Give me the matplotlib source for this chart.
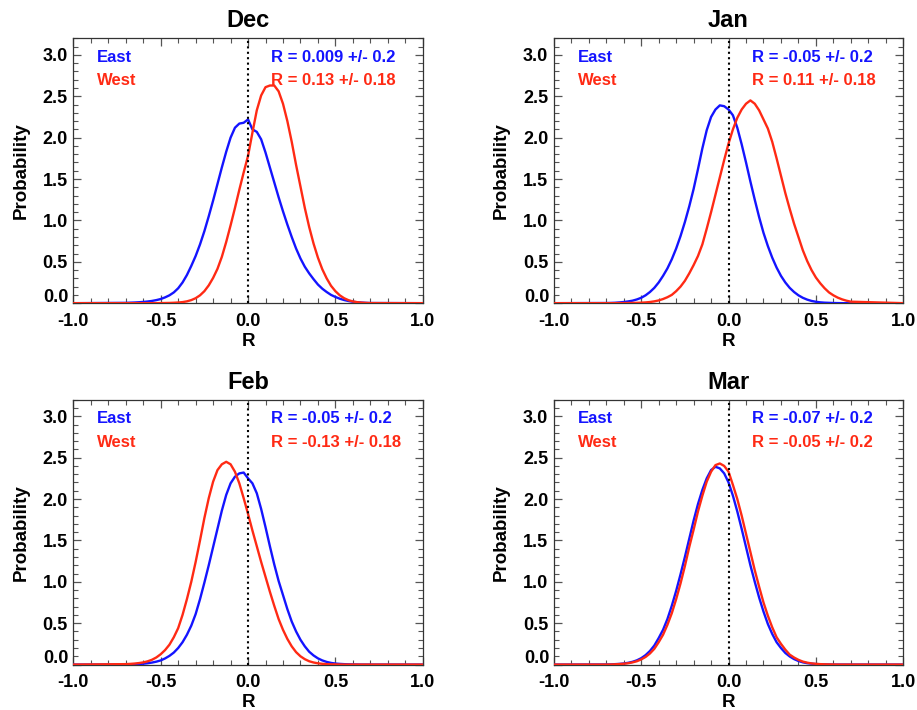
import numpy as np
import matplotlib.pyplot as plt
import matplotlib.transforms as mtransforms
from matplotlib.ticker import MultipleLocator

plt.rcParams['font.family'] = ['Liberation Sans', 'DejaVu Sans']
plt.rcParams['font.weight'] = 'bold'

# correlation bins, -0.7 .. 0.7 in steps of 0.025 (probability is 0 outside)
r_bins = np.round(np.linspace(-0.7, 0.7, 57), 3)

months = ['Dec', 'Jan', 'Feb', 'Mar']
east_stats = ['R = 0.009 +/- 0.2', 'R = -0.05 +/- 0.2', 'R = -0.05 +/- 0.2', 'R = -0.07 +/- 0.2']
west_stats = ['R = 0.13 +/- 0.18', 'R = 0.11 +/- 0.18', 'R = -0.13 +/- 0.18', 'R = -0.05 +/- 0.2']

dec_east = [0.004, 0.006, 0.008, 0.011, 0.015, 0.02, 0.027, 0.037, 0.05, 0.07,
            0.095, 0.13, 0.18, 0.25, 0.34, 0.45, 0.57, 0.71, 0.87, 1.05,
            1.24, 1.44, 1.64, 1.83, 2.00, 2.12, 2.17, 2.18, 2.22,
            2.10, 2.07, 1.98, 1.82, 1.64, 1.46, 1.28, 1.11, 0.95, 0.80,
            0.66, 0.54, 0.44, 0.36, 0.29, 0.225, 0.175, 0.135, 0.10, 0.075,
            0.054, 0.038, 0.026, 0.017, 0.011, 0.007, 0.004, 0.002]
dec_west = [0, 0, 0, 0, 0, 0, 0, 0, 0.001, 0.002,
            0.003, 0.005, 0.008, 0.013, 0.022, 0.037, 0.06, 0.095, 0.145, 0.215,
            0.305, 0.415, 0.56, 0.74, 0.94, 1.15, 1.37, 1.58, 1.78,
            2.06, 2.33, 2.51, 2.61, 2.63, 2.63, 2.56, 2.41, 2.20, 1.95,
            1.67, 1.41, 1.15, 0.92, 0.72, 0.55, 0.41, 0.30, 0.21, 0.145,
            0.095, 0.06, 0.036, 0.021, 0.012, 0.006, 0.003, 0.001]
jan_east = [0.002, 0.003, 0.005, 0.009, 0.014, 0.021, 0.03, 0.045, 0.065, 0.095,
            0.135, 0.185, 0.25, 0.33, 0.42, 0.53, 0.66, 0.81, 0.98, 1.17,
            1.38, 1.62, 1.87, 2.09, 2.25, 2.34, 2.39, 2.38, 2.34,
            2.27, 2.12, 1.92, 1.70, 1.47, 1.25, 1.04, 0.85, 0.69, 0.55,
            0.43, 0.33, 0.25, 0.185, 0.135, 0.095, 0.065, 0.043, 0.027, 0.017,
            0.01, 0.006, 0.004, 0.002, 0.001, 0, 0, 0]
jan_west = [0, 0, 0, 0.001, 0.001, 0.002, 0.003, 0.004, 0.006, 0.009,
            0.014, 0.022, 0.033, 0.05, 0.072, 0.10, 0.145, 0.20, 0.27, 0.36,
            0.46, 0.57, 0.71, 0.90, 1.10, 1.31, 1.52, 1.73, 1.93,
            2.10, 2.24, 2.34, 2.41, 2.45, 2.41, 2.33, 2.22, 2.11, 1.95,
            1.75, 1.54, 1.33, 1.14, 0.96, 0.80, 0.64, 0.51, 0.40, 0.31,
            0.24, 0.18, 0.13, 0.095, 0.067, 0.046, 0.03, 0.018]
feb_east = [0.001, 0.002, 0.004, 0.007, 0.01, 0.016, 0.024, 0.035, 0.05, 0.074,
            0.105, 0.145, 0.20, 0.27, 0.36, 0.47, 0.61, 0.79, 0.99, 1.20,
            1.42, 1.64, 1.86, 2.05, 2.19, 2.27, 2.31, 2.32, 2.25,
            2.19, 2.07, 1.88, 1.66, 1.43, 1.21, 1.01, 0.84, 0.67, 0.52,
            0.40, 0.30, 0.22, 0.155, 0.11, 0.075, 0.05, 0.032, 0.02, 0.012,
            0.008, 0.005, 0.003, 0.002, 0.001, 0, 0, 0]
feb_west = [0.005, 0.008, 0.012, 0.018, 0.026, 0.039, 0.058, 0.086, 0.125, 0.175,
            0.24, 0.33, 0.44, 0.60, 0.79, 1.00, 1.24, 1.50, 1.77, 2.01,
            2.21, 2.35, 2.42, 2.45, 2.42, 2.33, 2.19, 2.01, 1.82,
            1.62, 1.43, 1.24, 1.06, 0.88, 0.71, 0.55, 0.42, 0.31, 0.22,
            0.15, 0.10, 0.065, 0.04, 0.025, 0.015, 0.009, 0.005, 0.003, 0.002,
            0.001, 0, 0, 0, 0, 0, 0, 0]
mar_east = [0.001, 0.002, 0.005, 0.008, 0.013, 0.021, 0.033, 0.051, 0.077, 0.114,
            0.164, 0.23, 0.32, 0.42, 0.55, 0.71, 0.89, 1.09, 1.30, 1.52,
            1.74, 1.94, 2.11, 2.25, 2.35, 2.39, 2.37, 2.31, 2.20,
            2.04, 1.85, 1.64, 1.42, 1.20, 1.00, 0.81, 0.64, 0.49, 0.37,
            0.27, 0.20, 0.14, 0.098, 0.066, 0.043, 0.027, 0.017, 0.011, 0.006,
            0.004, 0.002, 0.001, 0, 0, 0, 0, 0]
mar_west = [0, 0.001, 0.003, 0.006, 0.01, 0.016, 0.026, 0.04, 0.062, 0.092,
            0.134, 0.19, 0.27, 0.36, 0.48, 0.62, 0.79, 0.98, 1.19, 1.42,
            1.63, 1.85, 2.04, 2.21, 2.33, 2.41, 2.43, 2.40, 2.33,
            2.17, 2.00, 1.80, 1.58, 1.36, 1.14, 0.94, 0.75, 0.59, 0.45,
            0.33, 0.25, 0.18, 0.12, 0.085, 0.057, 0.036, 0.023, 0.014, 0.009,
            0.005, 0.003, 0.002, 0.001, 0, 0, 0, 0]

east = [dec_east, jan_east, feb_east, mar_east]
west = [dec_west, jan_west, feb_west, mar_west]

blue = '#1414ff'
red = '#ff2a14'

# axes boxes in figure fractions (left, bottom, width, height)
boxes = [[0.080, 0.573, 0.381, 0.373],
         [0.604, 0.573, 0.381, 0.373],
         [0.080, 0.064, 0.381, 0.373],
         [0.604, 0.064, 0.381, 0.373]]

fig = plt.figure(figsize=(9.17, 7.1), dpi=100)
xx = np.concatenate([[-1.0], r_bins, [1.0]])


def ylab(v, p):
    # bottom label is drawn separately, lifted off the corner like IDL does
    return '' if abs(v) < 1e-9 else f'{v:.1f}'


for i, m in enumerate(months):
    ax = fig.add_axes(boxes[i])
    ax.plot(xx, np.concatenate([[0], east[i], [0]]), color=blue, lw=1.7, zorder=3)
    ax.plot(xx, np.concatenate([[0], west[i], [0]]), color=red, lw=1.7, zorder=3)
    ax.axvline(0, color='black', lw=1.5, ls=(0, (1, 1.6)), zorder=4)

    ax.set_xlim(-1, 1)
    ax.set_ylim(0, 3.2)
    ax.xaxis.set_major_locator(MultipleLocator(0.5))
    ax.xaxis.set_minor_locator(MultipleLocator(0.1))
    ax.yaxis.set_major_locator(MultipleLocator(0.5))
    ax.yaxis.set_minor_locator(MultipleLocator(0.1))
    ax.xaxis.set_major_formatter(lambda v, p: f'{v:.1f}')
    ax.yaxis.set_major_formatter(ylab)
    ax.tick_params(which='both', direction='in', top=True, right=True,
                   color='#555555', labelsize=13)
    ax.tick_params(which='major', length=6, width=0.9)
    ax.tick_params(which='minor', length=3.5, width=0.8)
    ax.tick_params(axis='x', pad=7)
    ax.tick_params(axis='y', pad=4)
    for s in ax.spines.values():
        s.set_color('#333333')
        s.set_linewidth(0.9)

    lift = mtransforms.blended_transform_factory(ax.transAxes, ax.transData) + \
        mtransforms.ScaledTranslation(0, 0.057, fig.dpi_scale_trans)
    ax.text(-0.013, 0, '0.0', transform=lift, ha='right', va='center',
            fontsize=13, fontweight='bold')

    ax.set_title(m, fontsize=17, fontweight='bold', pad=8)
    ax.set_xlabel('R', fontsize=13.5, fontweight='bold')
    ax.set_ylabel('Probability', fontsize=13.5, fontweight='bold')
    ax.xaxis.set_label_coords(0.5, -0.112)
    ax.yaxis.set_label_coords(-0.125, 0.5)

    ax.text(0.068, 0.928, 'East', color=blue, fontsize=12, fontweight='bold',
            transform=ax.transAxes, va='center', ha='left')
    ax.text(0.068, 0.839, 'West', color=red, fontsize=12, fontweight='bold',
            transform=ax.transAxes, va='center', ha='left')
    ax.text(0.566, 0.928, east_stats[i], color=blue, fontsize=12, fontweight='bold',
            transform=ax.transAxes, va='center', ha='left')
    ax.text(0.566, 0.839, west_stats[i], color=red, fontsize=12, fontweight='bold',
            transform=ax.transAxes, va='center', ha='left')

fig.savefig('out.png', dpi=100)
